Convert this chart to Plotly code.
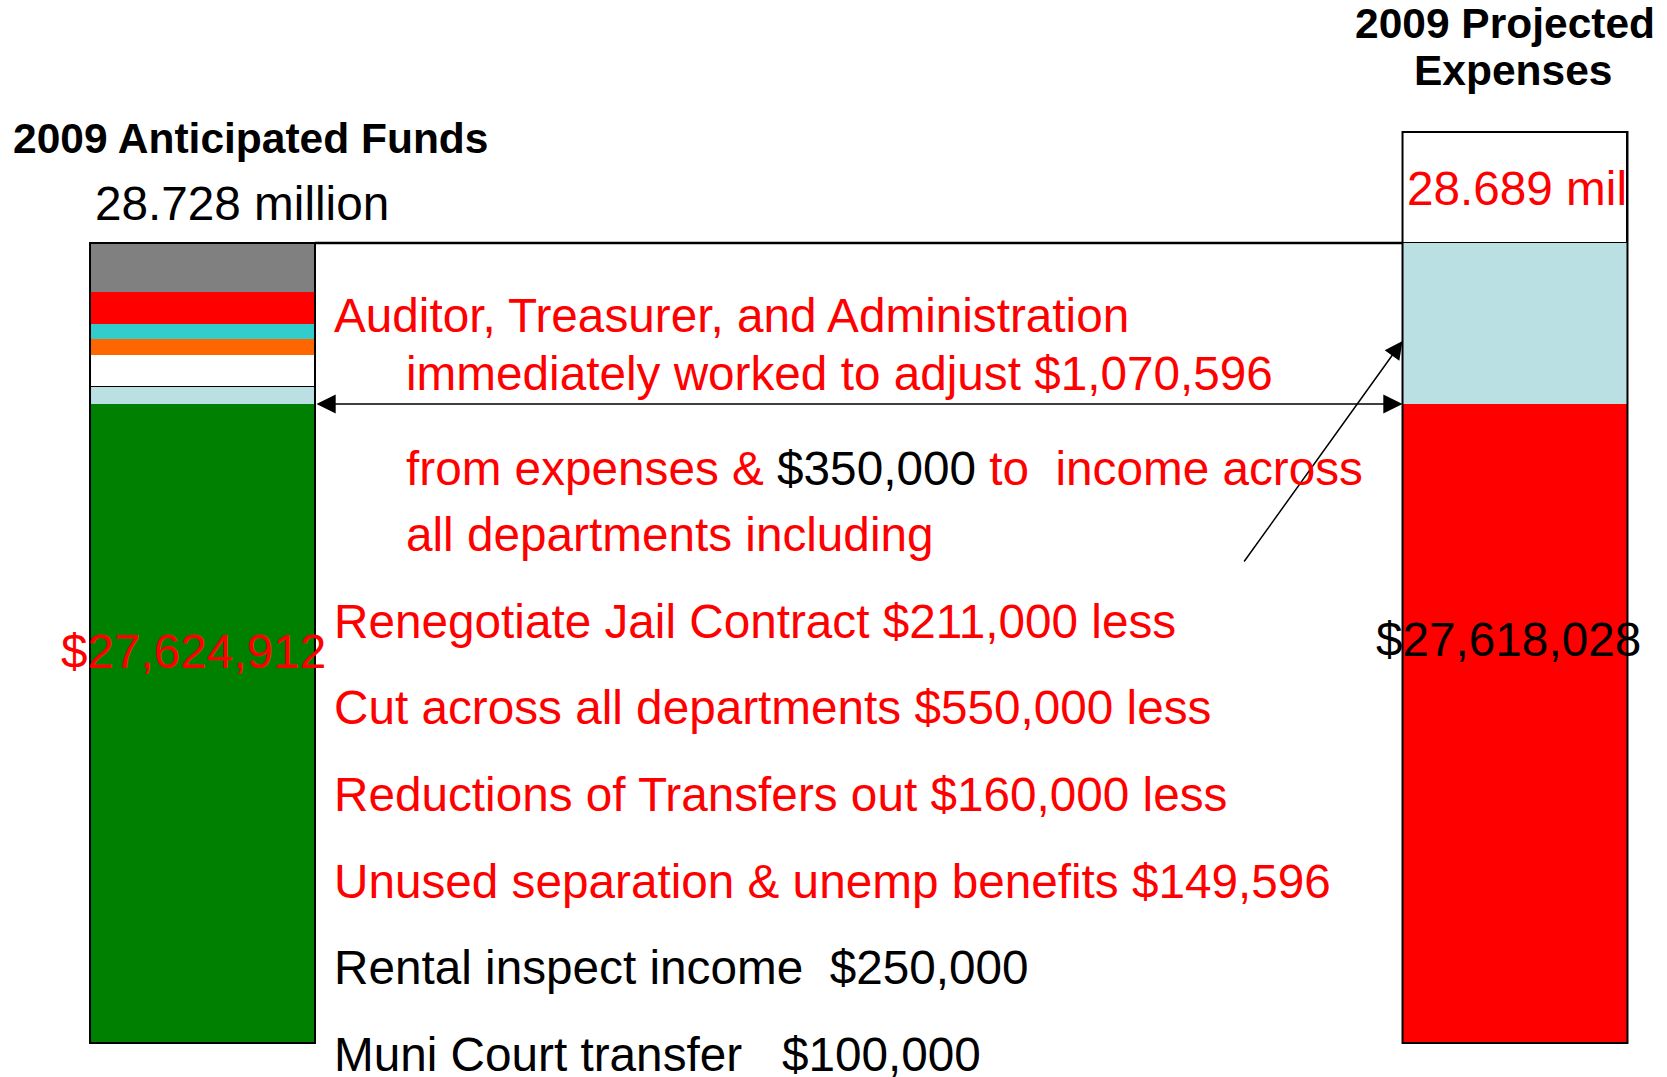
import plotly.graph_objects as go

# ---------------- data (bar segment heights are schematic, relative units) -------------
categories = ["2009 Anticipated Funds", "2009 Projected Expenses"]

funds_segments = ["Green (base funds)", "Light blue", "White", "Orange", "Cyan", "Red", "Gray"]
funds_heights = [639, 17, 32, 16, 15, 32, 49]
funds_colors = ["#008000", "#BBE0E3", "#FFFFFF", "#FF6600", "#33CCCC", "#FF0000", "#808080"]

expense_segments = ["Red (base expenses)", "Light blue", "White"]
expense_heights = [639, 161, 111]
expense_colors = ["#FF0000", "#BBE0E3", "#FFFFFF"]

funds_total_label = "28.728 million"
expense_total_label = "28.689 mil"
funds_base_label = "$27,624,912"
expense_base_label = "$27,618,028"

text_lines = [
    ("Auditor, Treasurer, and Administration", "red"),
    ("immediately worked to adjust $1,070,596", "red"),
    ("from expenses &amp; <span style='color:black'>$350,000</span> to&nbsp; income across", "red"),
    ("all departments including", "red"),
    ("Renegotiate Jail Contract $211,000 less", "red"),
    ("Cut across all departments $550,000 less", "red"),
    ("Reductions of Transfers out $160,000 less", "red"),
    ("Unused separation &amp; unemp benefits $149,596", "red"),
    ("Rental inspect income&nbsp; $250,000", "black"),
    ("Muni Court transfer&nbsp;&nbsp; $100,000", "black"),
]

# ---------------- layout helpers ----------------
W, H = 1667, 1077
FONT = "Liberation Sans, Arial, Helvetica, sans-serif"
BAR_W = 0.1714
X_RANGE = [-0.15429, 1.11581]
Y_RANGE = [-34, 1043]


def px(x):
    return x / W


def py(y):
    return 1 - y / H


fig = go.Figure()

for name, h, c in zip(funds_segments, funds_heights, funds_colors):
    lw = 1.5 if c == "#FFFFFF" else 0
    fig.add_trace(go.Bar(x=[categories[0]], y=[h], name=name, width=BAR_W,
                         marker=dict(color=c, line=dict(color="black", width=lw)),
                         hoverinfo="skip"))
for name, h, c in zip(expense_segments, expense_heights, expense_colors):
    lw = 1.5 if c == "#FFFFFF" else 0
    fig.add_trace(go.Bar(x=[categories[1]], y=[h], name=name, width=BAR_W,
                         marker=dict(color=c, line=dict(color="black", width=lw)),
                         hoverinfo="skip"))

funds_total = sum(funds_heights)
expense_total = sum(expense_heights)
funds_base = funds_heights[0]
expense_base = expense_heights[0]

shapes = []
# outlines around each full stack
for i, tot in enumerate([funds_total, expense_total]):
    shapes.append(dict(type="rect", xref="x", yref="y", x0=i - BAR_W / 2, x1=i + BAR_W / 2,
                       y0=0, y1=tot, line=dict(color="black", width=2), fillcolor="rgba(0,0,0,0)"))
# top connecting line at the funds total
shapes.append(dict(type="line", xref="x", yref="y", x0=0 + BAR_W / 2, x1=1 - BAR_W / 2,
                   y0=funds_total, y1=funds_total, line=dict(color="black", width=2.5)))

annotations = []
# double-headed arrow at top of base funds
annotations.append(dict(x=1 - BAR_W / 2, y=funds_base, ax=0 + BAR_W / 2, ay=funds_base,
                        xref="x", yref="y", axref="x", ayref="y", text="", showarrow=True,
                        arrowhead=2, startarrowhead=2, arrowside="end+start", arrowsize=2.4,
                        startarrowsize=2.4, arrowwidth=1.6, arrowcolor="black"))
# diagonal arrow pointing to the light-blue expense segment
annotations.append(dict(x=1 - BAR_W / 2, y=702, ax=0.7928, ay=480,
                        xref="x", yref="y", axref="x", ayref="y", text="", showarrow=True,
                        arrowhead=2, arrowsize=2.4, arrowwidth=1.5, arrowcolor="black"))


def label(text, x, y, size=47.7, color="black", bold=False, xanchor="left"):
    t = f"<b>{text}</b>" if bold else text
    annotations.append(dict(text=t, x=px(x), y=py(y), xref="paper", yref="paper",
                            xanchor=xanchor, yanchor="middle", showarrow=False,
                            font=dict(family=FONT, size=size, color=color)))


label(categories[0], 11, 138, size=42.5, bold=True)
label("2009 Projected", 1505, 24, size=42.5, bold=True, xanchor="center")
label("Expenses", 1513, 71, size=42.5, bold=True, xanchor="center")
label(funds_total_label, 93, 203)
label(expense_total_label, 1405, 188, color="red")
label(funds_base_label, 193, 651, color="red", xanchor="center")
label(expense_base_label, 1508, 639, color="black", xanchor="center")

line_pos = [(332, 316), (404, 374), (404, 468), (404, 534), (332, 621),
            (332, 707), (332, 794), (332, 881), (332, 967), (332, 1054)]
for (txt, col), (lx, ly) in zip(text_lines, line_pos):
    label(txt, lx, ly, color=col)

fig.update_layout(
    width=W, height=H, barmode="stack", showlegend=False,
    margin=dict(l=0, r=0, t=0, b=0, pad=0),
    paper_bgcolor="white", plot_bgcolor="white",
    xaxis=dict(type="category", categoryorder="array", categoryarray=categories,
               range=X_RANGE, visible=False, fixedrange=True),
    yaxis=dict(range=Y_RANGE, visible=False, fixedrange=True),
    shapes=shapes, annotations=annotations, bargap=0,
)

fig.write_html("out.html", config={"displayModeBar": False},
               post_script="document.body.style.margin='0';")
